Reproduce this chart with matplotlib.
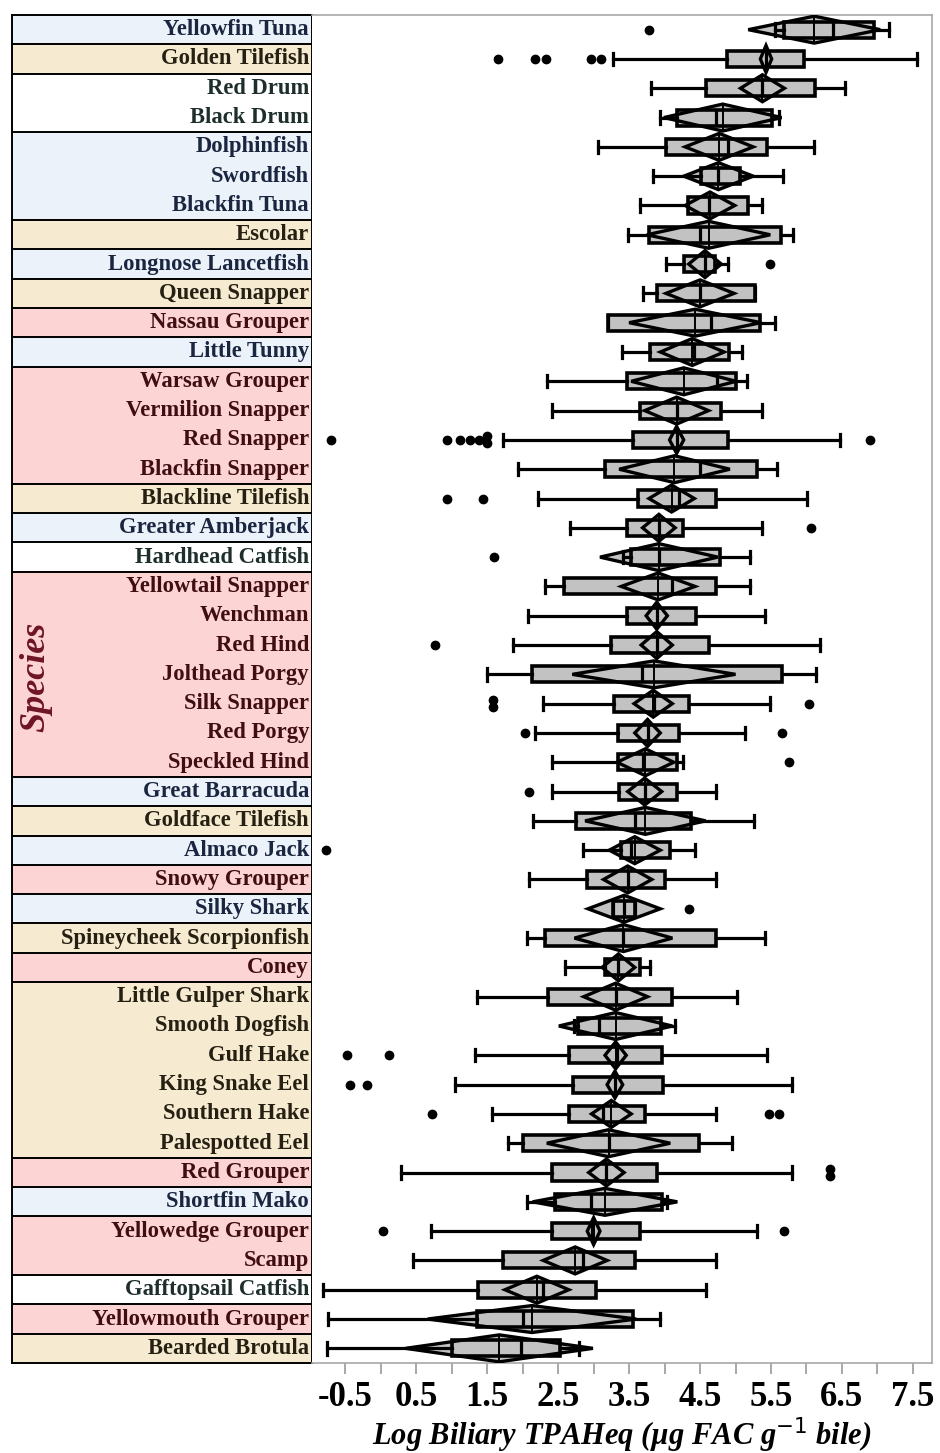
import matplotlib.pyplot as plt
import numpy as np
from matplotlib.patches import Polygon

# ---------------- data ----------------
species = [
    "Yellowfin Tuna", "Golden Tilefish", "Red Drum", "Black Drum", "Dolphinfish",
    "Swordfish", "Blackfin Tuna", "Escolar", "Longnose Lancetfish", "Queen Snapper",
    "Nassau Grouper", "Little Tunny", "Warsaw Grouper", "Vermilion Snapper", "Red Snapper",
    "Blackfin Snapper", "Blackline Tilefish", "Greater Amberjack", "Hardhead Catfish",
    "Yellowtail Snapper", "Wenchman", "Red Hind", "Jolthead Porgy", "Silk Snapper",
    "Red Porgy", "Speckled Hind", "Great Barracuda", "Goldface Tilefish", "Almaco Jack",
    "Snowy Grouper", "Silky Shark", "Spineycheek Scorpionfish", "Coney",
    "Little Gulper Shark", "Smooth Dogfish", "Gulf Hake", "King Snake Eel",
    "Southern Hake", "Palespotted Eel", "Red Grouper", "Shortfin Mako",
    "Yellowedge Grouper", "Scamp", "Gafftopsail Catfish", "Yellowmouth Grouper",
    "Bearded Brotula",
]
# habitat group of each species: b = pelagic, t = deep, w = estuarine, r = reef
group = ["b", "t", "w", "w", "b", "b", "b", "t", "b", "t",
         "r", "b", "r", "r", "r", "r", "t", "b", "w",
         "r", "r", "r", "r", "r", "r", "r", "b", "t", "b",
         "r", "b", "t", "r", "t", "t", "t", "t", "t", "t",
         "r", "b", "r", "r", "w", "r", "t"]

whis_lo = [5.55, 3.28, 3.81, 3.93, 3.06, 3.84, 3.65, 3.48, 4.02, 3.69,
           3.20, 3.40, 2.34, 2.41, 1.72, 1.94, 2.22, 2.66, 3.41,
           2.32, 2.08, 1.86, 1.50, 2.28, 2.17, 2.42, 2.41, 2.14, 2.85,
           2.09, 3.27, 2.06, 2.59, 1.35, 2.72, 1.33, 1.05, 1.57, 1.79,
           0.29, 2.06, 0.71, 0.45, -0.81, -0.74, -0.76]
q1 = [5.68, 4.88, 4.58, 4.17, 4.02, 4.51, 4.33, 3.78, 4.27, 3.89,
      3.20, 3.80, 3.47, 3.65, 3.56, 3.16, 3.62, 3.47, 3.52,
      2.58, 3.47, 3.24, 2.13, 3.29, 3.34, 3.34, 3.36, 2.75, 3.39,
      2.90, 3.27, 2.31, 3.16, 2.36, 2.78, 2.65, 2.71, 2.65, 2.00,
      2.41, 2.45, 2.41, 1.72, 1.37, 1.35, 1.00]
median = [6.37, 5.43, 5.38, 4.72, 4.89, 4.75, 4.63, 4.50, 4.57, 4.50,
          4.65, 4.42, 4.74, 4.17, 4.17, 4.50, 4.20, 3.92, 3.92,
          4.11, 3.89, 3.89, 3.68, 3.85, 3.76, 3.69, 3.72, 3.58, 3.53,
          3.48, 3.43, 3.42, 3.35, 3.31, 3.07, 3.33, 3.30, 3.13, 3.21,
          3.17, 2.97, 2.98, 2.85, 2.28, 2.00, 1.97]
q3 = [6.95, 5.97, 6.12, 5.51, 5.44, 5.07, 5.17, 5.64, 4.71, 5.27,
      5.35, 4.91, 5.00, 4.80, 4.89, 5.30, 4.72, 4.26, 4.78,
      4.72, 4.45, 4.62, 5.66, 4.34, 4.20, 4.17, 4.18, 4.37, 4.08,
      4.00, 3.58, 4.73, 3.65, 4.10, 3.95, 3.96, 3.98, 3.73, 4.48,
      3.90, 3.97, 3.65, 3.59, 3.03, 3.55, 2.53]
whis_hi = [7.16, 7.56, 6.55, 5.62, 6.11, 5.67, 5.37, 5.81, 4.90, 5.27,
           5.55, 5.09, 5.16, 5.37, 6.48, 5.59, 6.01, 5.37, 5.21,
           5.21, 5.41, 6.19, 6.13, 5.49, 5.14, 4.26, 4.72, 5.26, 4.43,
           4.72, 3.58, 5.42, 3.79, 5.02, 4.15, 5.44, 5.79, 4.72, 4.95,
           5.80, 4.04, 5.30, 4.72, 4.58, 3.93, 2.79]
mean = [6.11, 5.43, 5.38, 4.82, 4.77, 4.76, 4.64, 4.62, 4.57, 4.50,
        4.43, 4.39, 4.27, 4.17, 4.17, 4.14, 4.10, 3.92, 3.92,
        3.91, 3.89, 3.89, 3.85, 3.84, 3.76, 3.73, 3.72, 3.73, 3.58,
        3.48, 3.43, 3.42, 3.35, 3.31, 3.31, 3.31, 3.30, 3.25, 3.21,
        3.18, 3.16, 3.00, 2.74, 2.20, 2.13, 1.67]
# half width of the 95 % confidence diamond
ci_half = [0.93, 0.08, 0.31, 0.83, 0.48, 0.49, 0.35, 0.87, 0.23, 0.48,
           0.93, 0.45, 0.74, 0.45, 0.10, 0.78, 0.32, 0.23, 0.83,
           0.52, 0.15, 0.22, 1.15, 0.27, 0.18, 0.40, 0.24, 0.85, 0.36,
           0.34, 0.51, 0.69, 0.23, 0.45, 0.80, 0.15, 0.11, 0.28, 0.87,
           0.25, 1.02, 0.09, 0.45, 0.45, 1.47, 1.32]
outliers = [
    [3.78], [1.65, 2.18, 2.33, 2.96, 3.10], [], [], [], [], [], [], [5.48], [],
    [], [], [], [], [-0.70, 0.94, 1.12, 1.26, 1.38, 1.50, 1.50, 6.90], [], [0.94, 1.44],
    [6.06], [1.59],
    [], [], [0.77], [], [1.58, 1.58, 6.03], [2.03, 5.65], [5.75], [2.09], [], [-0.77],
    [], [4.35], [], [], [], [], [-0.48, 0.12], [-0.43, -0.19], [0.72, 5.47, 5.61], [],
    [6.33, 6.33], [], [0.03, 5.68], [], [], [], [],
]

x_ticks = [-0.5, 0.5, 1.5, 2.5, 3.5, 4.5, 5.5, 6.5, 7.5]

group_bg = {"b": "#ecf2fa", "t": "#f6ead1", "w": "#ffffff", "r": "#fdd4d4"}
group_fg = {"b": "#1a2640", "t": "#262012", "w": "#1d2e2c", "r": "#3f0d12"}

n = len(species)
rows = np.arange(n)

# ---------------- figure ----------------
W, H = 940, 1453
fig = plt.figure(figsize=(W / 100, H / 100), dpi=100)
bottom = (H - 1363) / H
height = 1348 / H

tax = fig.add_axes([12 / W, bottom, 300 / W, height])
ax = fig.add_axes([312 / W, bottom, 620 / W, height])

serif = "Liberation Serif"

# ---- species table ----
tax.set_xlim(0, 1)
tax.set_ylim(n - 0.5, -0.5)
start = 0
for i in range(1, n + 1):
    if i == n or group[i] != group[start]:
        tax.axhspan(start - 0.5, i - 0.5, color=group_bg[group[start]], lw=0)
        if i < n:
            tax.axhline(i - 0.5, color="black", lw=1.4)
        start = i
for i, name in enumerate(species):
    tax.text(0.99, i, name, ha="right", va="center", fontsize=16.3,
             fontweight="bold", family=serif, color=group_fg[group[i]])
tax.set_xticks([])
tax.set_yticks([])
for s in tax.spines.values():
    s.set_color("black")
    s.set_linewidth(1.4)
tax.text(0.08, (n - 1) / 2 - 0.4, "Species", rotation=90, ha="center", va="center",
         fontsize=26, fontweight="bold", fontstyle="italic", family=serif,
         color="#6e1423")

# ---- box plots ----
h = 0.46  # diamond half height (row units)
for i in rows:
    m, c = mean[i], ci_half[i]
    xs = [m - c, m, m + c, m]
    ys = [i, i - h, i, i + h]
    ax.add_patch(Polygon(list(zip(xs, ys)), closed=True, facecolor="#c2c2c2",
                         edgecolor="none", zorder=1.5))

stats = [dict(whislo=whis_lo[i], q1=q1[i], med=median[i], q3=q3[i],
              whishi=whis_hi[i], fliers=[]) for i in rows]
ax.bxp(stats, positions=rows, orientation="horizontal", widths=0.55,
       capwidths=0.42, patch_artist=True, showfliers=False,
       boxprops=dict(facecolor="#c2c2c2", edgecolor="black", linewidth=2.6),
       whiskerprops=dict(color="black", linewidth=2.3),
       capprops=dict(color="black", linewidth=2.3),
       medianprops=dict(color="black", linewidth=2.3))

for i in rows:
    m, c = mean[i], ci_half[i]
    xs = [m - c, m, m + c, m]
    ys = [i, i - h, i, i + h]
    ax.add_patch(Polygon(list(zip(xs, ys)), closed=True, facecolor="none",
                         edgecolor="black", lw=2.4, joinstyle="miter", zorder=3))
    ax.plot([m, m], [i - h, i + h], color="black", lw=1.4, zorder=3)
    vals = outliers[i]
    for v in sorted(set(vals)):
        k = vals.count(v)
        offs = (np.arange(k) - (k - 1) / 2) * 0.24
        ax.plot([v] * k, i + offs, "o", color="black", ms=6, zorder=4)

ax.set_xlim(-0.97, 7.77)
ax.set_ylim(n - 0.5, -0.5)
ax.set_yticks([])
ax.set_xticks(x_ticks)
ax.set_xticks(np.arange(0, 8, 1.0), minor=True)
ax.set_xticklabels([f"{t:.1f}" for t in x_ticks], fontsize=25, fontweight="bold",
                   family=serif)
ax.tick_params(axis="x", which="both", length=8, color="#9a9a9a", width=1.2, pad=5)
for s in ax.spines.values():
    s.set_color("#a8a8a8")
    s.set_linewidth(1.2)
ax.spines["left"].set_visible(False)

plt.rcParams["mathtext.fontset"] = "custom"
plt.rcParams["mathtext.rm"] = "Liberation Serif:italic:bold"
plt.rcParams["mathtext.it"] = "Liberation Serif:italic:bold"
ax.set_xlabel("Log Biliary TPAHeq (\u00b5g FAC g$^{-1}$ bile)", fontsize=22,
              fontweight="bold", fontstyle="italic", family=serif, labelpad=1)

fig.savefig("out.png", dpi=100)
